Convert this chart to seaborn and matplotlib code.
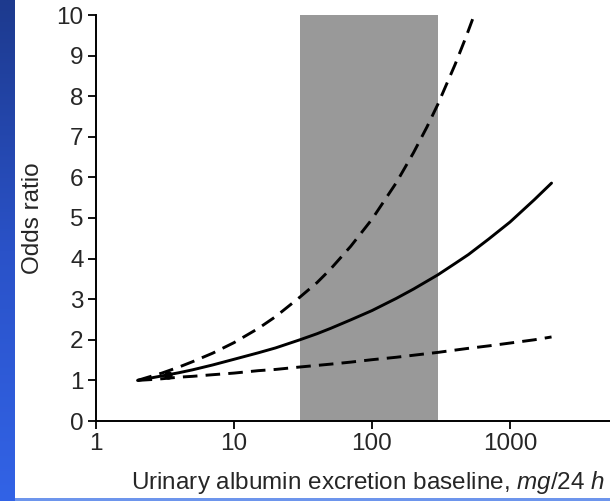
import numpy as np
import pandas as pd
import matplotlib
matplotlib.use("Agg")
import matplotlib.pyplot as plt
from matplotlib.colors import LinearSegmentedColormap
import seaborn as sns

# === Values ===
solid_x = [2, 2.5, 3, 4, 5, 7, 10, 15, 20, 30, 40, 50, 70, 100, 150, 200, 300, 400, 500, 700, 1000, 1500, 2000]
solid_or = [1.0, 1.06, 1.11, 1.19, 1.26, 1.38, 1.52, 1.68, 1.80, 2.0, 2.15, 2.28, 2.49, 2.72,
            3.02, 3.25, 3.60, 3.88, 4.10, 4.48, 4.90, 5.45, 5.86]

upper_x = [2, 2.5, 3, 4, 5, 7, 10, 15, 20, 30, 40, 50, 70, 100, 150, 200, 250, 300, 400, 480, 550]
upper_or = [1.0, 1.10, 1.18, 1.33, 1.46, 1.67, 1.93, 2.28, 2.57, 3.05, 3.41, 3.74, 4.30, 4.97,
            5.87, 6.61, 7.24, 7.80, 8.78, 9.46, 10.0]

lower_x = [2, 2.5, 3, 4, 5, 7, 10, 15, 20, 30, 50, 70, 100, 150, 200, 300, 500, 700, 1000, 1500, 2000]
lower_or = [1.0, 1.02, 1.04, 1.08, 1.10, 1.14, 1.18, 1.24, 1.27, 1.33, 1.40, 1.45, 1.51, 1.57,
            1.62, 1.69, 1.79, 1.85, 1.92, 2.00, 2.07]

blob_x = [3.3]
blob_or = [1.14]

band = (30, 300)
x_ticks = [1, 10, 100, 1000]
y_ticks = list(range(0, 11))

sns.set_style("ticks")
plt.rcParams["font.family"] = ["Liberation Sans", "DejaVu Sans"]
plt.rcParams["mathtext.fontset"] = "custom"
plt.rcParams["mathtext.it"] = "Liberation Sans:italic"
plt.rcParams["mathtext.rm"] = "Liberation Sans"

fig = plt.figure(figsize=(6.1, 5.01), dpi=100)
W, H = 610, 501

# === Slide decoration: blue strip on the left, thin line at the bottom ===
strip = fig.add_axes([0, 0, 15 / W, 1])
cmap = LinearSegmentedColormap.from_list("slide", ["#1d3a8e", "#2a52c8", "#3263e6"])
strip.imshow(np.linspace(0, 1, 256).reshape(-1, 1), aspect="auto", cmap=cmap)
strip.axis("off")
edge = fig.add_axes([15 / W, 0, 1, 3 / H])
edge.set_facecolor("#6d95ec")
edge.set_xticks([])
edge.set_yticks([])
for s in edge.spines.values():
    s.set_visible(False)

# === Main plot ===
ax = fig.add_axes([96 / W, 80 / H, 552 / W, 406 / H])
ax.axvspan(*band, color="#999999", lw=0, zorder=0)

dash = (5.0, 2.8)
sns.lineplot(x=solid_x, y=solid_or, ax=ax, color="black", lw=2.1, sort=False)
sns.lineplot(x=upper_x, y=upper_or, ax=ax, color="black", lw=2.1, sort=False)
ax.lines[-1].set_dashes(dash)
sns.lineplot(x=lower_x, y=lower_or, ax=ax, color="black", lw=2.1, sort=False)
ax.lines[-1].set_dashes(dash)
ax.plot(blob_x, blob_or, "o", color="black", ms=5)

ax.set_xscale("log")
ax.set_xlim(1, 10000)
ax.set_ylim(0, 10)
ax.set_xticks(x_ticks)
ax.set_xticklabels([str(t) for t in x_ticks])
ax.minorticks_off()
ax.set_yticks(y_ticks)
ax.tick_params(axis="both", labelsize=17.5, length=6, width=1.3, color="black", pad=3)
for side in ["top", "right"]:
    ax.spines[side].set_visible(False)
for side in ["left", "bottom"]:
    ax.spines[side].set_linewidth(1.4)
    ax.spines[side].set_color("black")
ax.set_facecolor("none")

# x label ends just inside the right edge of the picture
ax.set_xlabel("Urinary albumin excretion baseline, $\\mathit{mg/24\\ h}$", fontsize=17.5, ha="right")
ax.xaxis.set_label_coords((605 - 96) / 552, -0.118)
ax.set_ylabel("Odds ratio", fontsize=17.5, labelpad=9)

fig.savefig("out.png", dpi=100)
